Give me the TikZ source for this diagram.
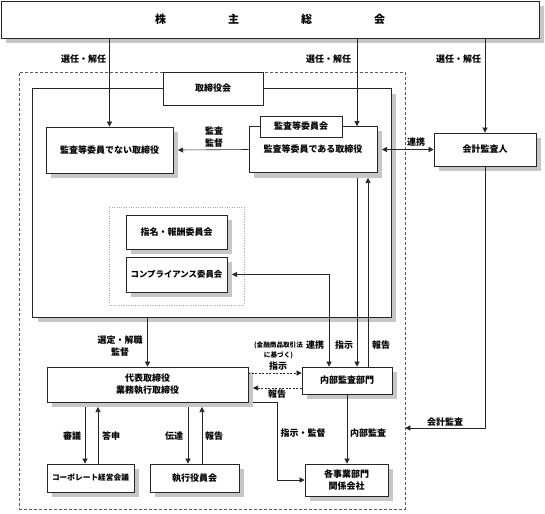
\documentclass[tikz,border=0pt]{standalone}
\usepackage{fontspec}
\setmainfont{Noto Sans CJK JP}
\usetikzlibrary{arrows.meta,backgrounds,calc}

\begin{document}
\begin{tikzpicture}[x=1pt, y=-1pt, font=\fontsize{9}{12}\selectfont\bfseries,
  box/.style={draw=black!85, fill=white, line width=.7pt, inner sep=1pt, align=center},
  shadowfill/.style={fill=black!22, draw=none},
  lab/.style={inner sep=0pt, align=center},
  line/.style={draw=black!85, line width=.6pt},
  arr/.style={line, -{Triangle[length=5pt,width=5pt]}},
  darr/.style={line, {Triangle[length=5pt,width=5pt]}-{Triangle[length=5pt,width=5pt]}},
  dotarr/.style={arr, dash pattern=on 2pt off 1.5pt}]
  \useasboundingbox (0,0) rectangle (545,513);

  % frames
  \node[draw=black!65, dash pattern=on 3pt off 2pt, line width=.6pt, minimum width=386pt, minimum height=437pt] (outer) at (212,290.5) {};
  \node[minimum width=358pt, minimum height=228pt] (board) at (212,203) {};
  \node[box, minimum width=538pt, minimum height=37pt] (soukai) at (270,19.5) {\fontsize{11}{13}\selectfont 株\hspace{62pt}主\hspace{62pt}総\hspace{62pt}会};
  \node[box, minimum width=100pt, minimum height=33pt] (boardtab) at (213,88.5) {取締役会};

  % boxes
  \node[box, minimum width=127pt, minimum height=46pt] (nonaudit) at (109.5,150) {監査等委員でない取締役};
  \node[box, minimum width=128pt, minimum height=46pt] (audit) at (313,149.5) {監査等委員である取締役};
  \node[box, minimum width=82pt, minimum height=21pt] (audittab) at (301,126.5) {監査等委員会};
  \node[box, minimum width=102pt, minimum height=33pt] (kaikei) at (485,149.5) {会計監査人};
  \node[draw=black!35, dotted, minimum width=135pt, minimum height=98pt] (grp) at (176.5,256) {};
  \node[box, minimum width=101pt, minimum height=34pt] (shimei) at (176.5,232) {指名・報酬委員会};
  \node[box, minimum width=101pt, minimum height=35pt] (comp) at (176.5,274.5) {\fontsize{8.4}{10}\selectfont コンプライアンス委員会};
  \node[box, minimum width=201pt, minimum height=35pt] (daihyo) at (147.5,384.5) {代表取締役\\業務執行取締役};
  \node[box, minimum width=90pt, minimum height=27pt] (naibu) at (347,380.5) {内部監査部門};
  \node[box, minimum width=87pt, minimum height=28pt] (corp) at (90.5,478) {\fontsize{7.7}{9}\selectfont コーポレート経営会議};
  \node[box, minimum width=89pt, minimum height=28pt] (shikko) at (194.5,478) {執行役員会};
  \node[box, minimum width=83pt, minimum height=32pt] (jigyo) at (346.5,480) {各事業部門\\関係会社};

  % shadows and board frame
  \begin{scope}[on background layer]
    \path[shadowfill] ($(board.north west)+(5,5)$) rectangle ($(board.south east)+(5,5)$);
    \draw[box] (board.south west) rectangle (board.north east);
    \foreach \n in {soukai,nonaudit,audit,kaikei,shimei,comp,daihyo,naibu,corp,shikko,jigyo}
      \path[shadowfill] ($(\n.north west)+(5,5)$) rectangle ($(\n.south east)+(5,5)$);
  \end{scope}

  % helper coordinates
  \coordinate (xa) at (357,0);
  \coordinate (xb) at (368,0);
  \coordinate (xc) at (329,274.5);
  \coordinate (xd) at (277,0);
  \coordinate (ab) at (0,178);
  \coordinate (yk) at (0,428);
  \coordinate (ys) at (0,373);
  \coordinate (yr) at (0,388);
  \coordinate (db) at (0,407);
  \coordinate (dse) at (253,0);
  \coordinate (ne) at (178,0);
  \coordinate (ce) at (232,0);
  \coordinate (ae) at (382,0);
  \coordinate (x1) at (85,0);
  \coordinate (x2) at (98,0);
  \coordinate (x3) at (188,0);
  \coordinate (x4) at (202,0);

  % connectors
  \draw[arr] (soukai.south -| nonaudit.north) -- (nonaudit.north);
  \draw[arr] (soukai.south -| xa) -- (audit.north -| xa);
  \draw[arr] (soukai.south -| kaikei.north) -- (kaikei.north);
  \draw[arr] (audit.west) -- (nonaudit.east -| ne);
  \draw[darr] (audit.east -| ae) -- (kaikei.west);
  \draw[arr] (ab -| xa) -- (naibu.north -| xa);
  \draw[arr] (naibu.north -| xb) -- (ab -| xb);
  \draw[darr] (naibu.north -| xc) -- (xc) -- (comp.east -| ce);
  \draw[arr] (kaikei.south) |- (yk -| outer.east);
  \draw[arr] (board.south -| daihyo.north) -- (daihyo.north);
  \draw[dotarr] (ys -| daihyo.east) -- (ys -| naibu.west);
  \draw[dotarr] (yr -| naibu.west) -- (yr -| dse);
  \draw[arr] (dse |- daihyo.south) -| (jigyo.west -| xd) -- (jigyo.west);
  \draw[arr] (naibu.south) -- (naibu.south |- jigyo.north);
  \draw[arr] (db -| x1) -- (corp.north -| x1);
  \draw[arr] (corp.north -| x2) -- (db -| x2);
  \draw[arr] (db -| x3) -- (shikko.north -| x3);
  \draw[arr] (shikko.north -| x4) -- (db -| x4);

  % labels
  \node[lab] (l1) at (83.5,59) {選任・解任};
  \node[lab] (l2) at (328.5,59) {選任・解任};
  \node[lab] (l3) at (458.5,59) {選任・解任};
  \node[lab] (l4) at (214,137.5) {監査\\監督};
  \node[lab] (l5) at (416,142) {連携};
  \node[lab] (l6) at (120,346.5) {選定・解職\\監督};
  \node[lab, font=\fontsize{6.6}{10}\selectfont\bfseries] (l7) at (278.5,350) {(金融商品取引法\\に基づく)};
  \node[lab] (l8) at (278,366) {指示};
  \node[lab] (l9) at (315,345) {連携};
  \node[lab] (l10) at (344,345) {指示};
  \node[lab] (l11) at (381,345) {報告};
  \node[lab] (l12) at (277,394) {報告};
  \node[lab] (l13) at (303,433) {指示・監督};
  \node[lab] (l14) at (368,433) {内部監査};
  \node[lab] (l15) at (445,422) {会計監査};
  \node[lab] (l16) at (72,436) {審議};
  \node[lab] (l17) at (111,436) {答申};
  \node[lab] (l18) at (174,436) {伝達};
  \node[lab] (l19) at (214,436) {報告};
\end{tikzpicture}
\end{document}
